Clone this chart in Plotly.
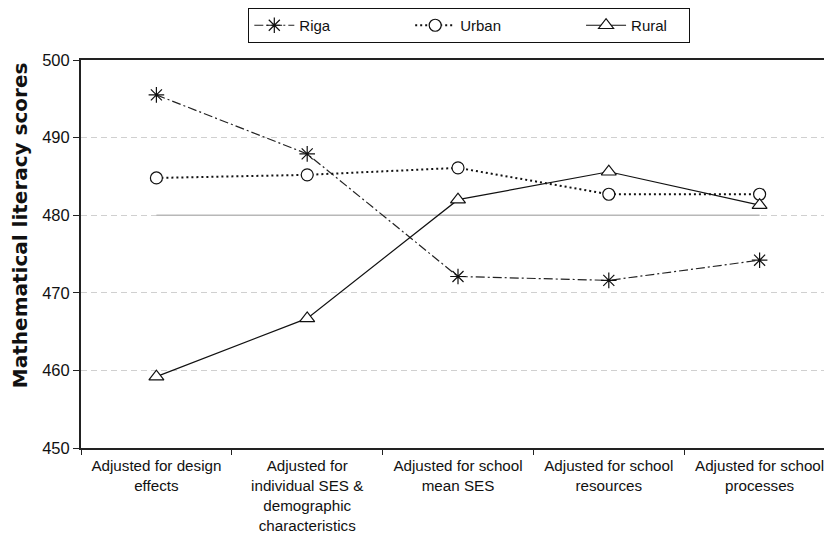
import plotly.graph_objects as go

categories = [
    "Adjusted for design<br>effects",
    "Adjusted for<br>individual SES &<br>demographic<br>characteristics",
    "Adjusted for school<br>mean SES",
    "Adjusted for school<br>resources",
    "Adjusted for school<br>processes",
]
riga = [495.5, 487.9, 472.1, 471.6, 474.2]
urban = [484.8, 485.2, 486.1, 482.7, 482.7]
rural = [459.2, 466.7, 482.0, 485.6, 481.3]
reference = [480, 480, 480, 480, 480]
y_ticks = [450, 460, 470, 480, 490, 500]
series_names = ["Riga", "Urban", "Rural"]
y_title = "Mathematical literacy scores"

font_family = "Liberation Sans, Arial, sans-serif"
gap = "\u00a0" * 18
end_pad = "\u00a0" * 4

fig = go.Figure()

fig.add_trace(go.Scatter(
    x=categories, y=reference, mode="lines",
    line=dict(color="#b8b8b8", width=1.5),
    showlegend=False, hoverinfo="skip",
))
fig.add_trace(go.Scatter(
    x=categories, y=riga, mode="lines+markers", name=series_names[0] + gap,
    line=dict(color="#222222", width=1.2, dash="9px,3px,2px,3px"),
    marker=dict(symbol="asterisk-open", size=13, color="#111111",
                line=dict(color="#111111", width=1.2)),
))
fig.add_trace(go.Scatter(
    x=categories, y=urban, mode="lines+markers", name=series_names[1] + gap,
    line=dict(color="#111111", width=2, dash="2px,3px"),
    marker=dict(symbol="circle", size=12, color="white",
                line=dict(color="#111111", width=1.2)),
))
fig.add_trace(go.Scatter(
    x=categories, y=rural, mode="lines+markers", name=series_names[2] + end_pad,
    line=dict(color="#111111", width=1.2),
    marker=dict(symbol="triangle-up", size=13, color="white",
                line=dict(color="#111111", width=1.2)),
))

fig.update_layout(
    width=832, height=539,
    margin=dict(l=73, r=5, t=52, b=99, autoexpand=False),
    paper_bgcolor="white", plot_bgcolor="white",
    font=dict(family=font_family, size=15, color="#111111"),
    legend=dict(
        orientation="h", x=0.515, xanchor="center", y=1.134, yanchor="top",
        bordercolor="#111111", borderwidth=1, bgcolor="white",
        font=dict(size=15), itemwidth=40,
    ),
    annotations=[dict(
        text="<b>" + y_title + "</b>", textangle=-90,
        xref="paper", yref="paper", x=-0.0806, y=0.575,
        xanchor="center", yanchor="middle", showarrow=False,
        font=dict(size=20, family="DejaVu Sans, sans-serif", color="#111111"),
    )],
)
fig.update_xaxes(
    type="category", range=[-0.5, 4.5],
    showline=True, linecolor="#222222", linewidth=2, mirror=True,
    ticks="outside", ticklen=5, tickcolor="#222222", tickson="boundaries",
    showgrid=False, tickfont=dict(size=15.2), ticklabelstandoff=3,
)
fig.update_yaxes(
    range=[450, 500], tickvals=y_ticks,
    showline=True, linecolor="#222222", linewidth=2,
    ticks="outside", ticklen=6, tickcolor="#222222",
    showgrid=True, gridcolor="#d0d0d0", gridwidth=1, griddash="6px,4px",
    tickfont=dict(size=16.5),
)

fig.write_html("out.html")
